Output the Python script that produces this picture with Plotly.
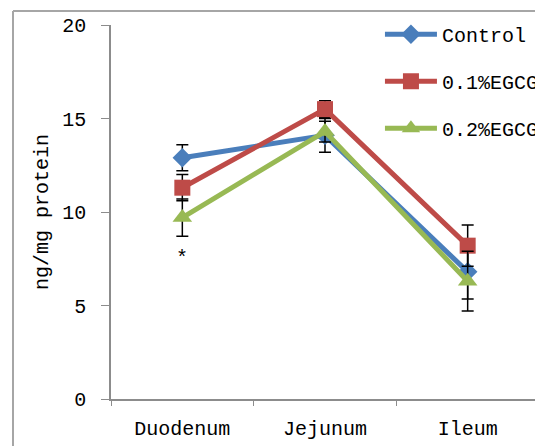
import plotly.graph_objects as go

categories = ["Duodenum", "Jejunum", "Ileum"]
control = [12.9, 14.1, 6.8]
control_err = [0.7, 0.9, 1.45]
egcg01 = [11.3, 15.5, 8.2]
egcg01_err = [0.7, 0.45, 1.1]
egcg02 = [9.7, 14.3, 6.3]
egcg02_err = [1.0, 0.55, 1.6]
series_names = ["Control", "0.1%EGCG", "0.2%EGCG"]
star_label = "*"
star_pos = ("Duodenum", 7.5)

FONT = "Liberation Mono, DejaVu Sans Mono, monospace"

W, H = 543, 446
ML, MR, MT, MB = 103, 12, 17, 55

specs = [
    (control, control_err, "#4A7EBB", "diamond", 15),
    (egcg01, egcg01_err, "#BE4B48", "square", 16),
    (egcg02, egcg02_err, "#98B954", "triangle-up", 17),
]
fig = go.Figure(data=[
    go.Scatter(
        x=categories, y=vals, name=name, mode="lines+markers",
        legendgroup=name,
        line=dict(color=col, width=5),
        marker=dict(symbol=sym, size=sz, color=col),
        error_y=dict(type="data", array=errs, visible=True,
                     color="black", thickness=1.5, width=6),
    )
    for name, (vals, errs, col, sym, sz) in zip(series_names, specs)
])

fig.add_annotation(x=star_pos[0], y=star_pos[1], text=star_label,
                   showarrow=False, font=dict(family=FONT, size=20, color="black"))

# outer chart-area border (left and top edges visible in the reference)
bx = 5 / W
by = 1 - 3 / H
fig.add_shape(type="line", xref="paper", yref="paper",
              x0=bx, x1=bx, y0=0, y1=by,
              line=dict(color="#a6a6a6", width=2), layer="above")
fig.add_shape(type="line", xref="paper", yref="paper",
              x0=bx, x1=1, y0=by, y1=by,
              line=dict(color="#a6a6a6", width=2), layer="above")

fig.update_layout(
    width=W, height=H,
    margin=dict(l=0, r=0, t=0, b=0, autoexpand=False),
    paper_bgcolor="white", plot_bgcolor="white",
    font=dict(family=FONT, size=20, color="black"),
    showlegend=True,
    legend=dict(xref="container", yref="container",
                x=0.685, y=0.985, xanchor="left", yanchor="top",
                bgcolor="rgba(0,0,0,0)", itemwidth=52,
                tracegroupgap=18, font=dict(size=20)),
    xaxis=dict(domain=[ML / W, 1 - MR / W],
               type="category", range=[-0.5, 2.5], tickson="boundaries",
               showline=True, linecolor="#8c8c8c", linewidth=1.5,
               ticks="outside", ticklen=5, tickcolor="#8c8c8c",
               ticklabelstandoff=10,
               showgrid=False, zeroline=False, automargin=False),
    yaxis=dict(domain=[MB / H, 1 - MT / H],
               range=[0, 20], tickvals=[0, 5, 10, 15, 20],
               showline=True, linecolor="#8c8c8c", linewidth=1.5,
               ticks="outside", ticklen=8, tickcolor="#8c8c8c",
               ticklabelstandoff=11, automargin=False,
               showgrid=False, zeroline=False,
               title=dict(text="ng/mg protein", standoff=8,
                          font=dict(size=20))),
)

fig.write_html("out.html")
